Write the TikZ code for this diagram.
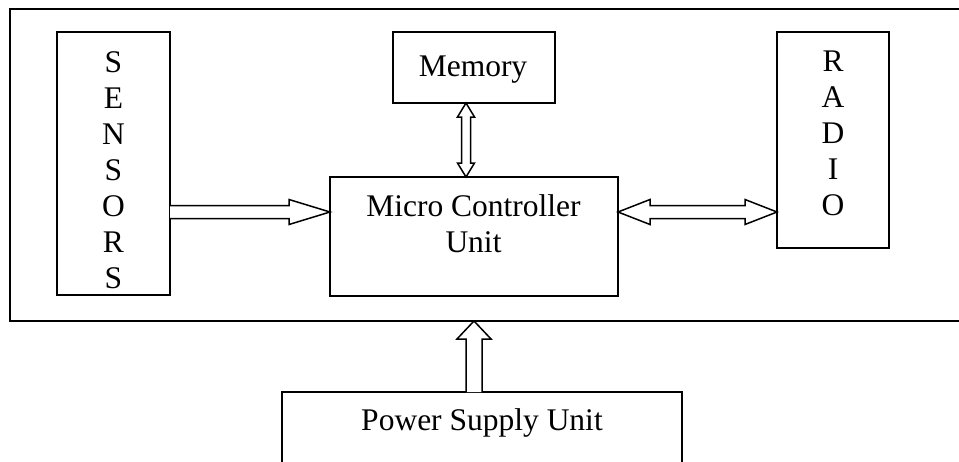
\documentclass[tikz,border=0pt]{standalone}
\usepackage{fontspec}
\setmainfont{Liberation Serif}
\usetikzlibrary{calc,fit}
\begin{document}
\begin{tikzpicture}[x=1pt,y=-1pt,
  box/.style={draw, line width=1.4pt, inner sep=0pt, outer sep=0pt},
  txt/.style={font=\fontsize{31.5}{36}\selectfont, align=center, inner sep=0pt, anchor=north},
  blockarrow/.style={draw, line width=1.5pt, fill=white, line join=miter}]
\useasboundingbox (0,0) rectangle (959,461);
\clip (0,0) rectangle (959,461);
% boxes
\node[box, fit={(10,9) (985,321)}] (outer) {};
\node[box, fit={(57,32) (170,295)}] (sen) {};
\node[box, fit={(393,32) (555,103)}] (mem) {};
\node[box, fit={(330,177) (618,296)}] (mcu) {};
\node[box, fit={(777,32) (889,248)}] (rad) {};
\node[box, fit={(282,392) (682,480)}] (psu) {};
% texts
\node[txt] (sentxt) at (sen.north |- 0,51) {S\\E\\N\\S\\O\\R\\S};
\node[txt] (memtxt) at (473,56) {Memory};
\node[txt] (mcutxt) at (473.5,194) {Micro Controller\\Unit};
\node[txt] (radtxt) at (rad.north |- 0,51) {R\\A\\D\\I\\O};
\node[txt] (psutxt) at (482,408) {Power Supply Unit};
% sensors -> mcu
\coordinate (a1) at (sen.east |- 0,212);
\coordinate (a2) at (mcu.west |- 0,212);
\draw[blockarrow] ($(a1)+(0,-6.5)$) -- ($(a2)+(-41,-6.5)$) -- ($(a2)+(-41,-12.5)$) -- (a2)
  -- ($(a2)+(-41,12.5)$) -- ($(a2)+(-41,6.5)$) -- ($(a1)+(0,6.5)$);
% mcu <-> radio
\coordinate (b1) at (mcu.east |- 0,212);
\coordinate (b2) at (rad.west |- 0,212);
\draw[blockarrow] (b1) -- ($(b1)+(32,-12.5)$) -- ($(b1)+(32,-6.5)$) -- ($(b2)+(-32,-6.5)$)
  -- ($(b2)+(-32,-12.5)$) -- (b2) -- ($(b2)+(-32,12.5)$) -- ($(b2)+(-32,6.5)$)
  -- ($(b1)+(32,6.5)$) -- ($(b1)+(32,12.5)$) -- cycle;
% memory <-> mcu
\coordinate (c1) at (466,0 |- mem.south);
\coordinate (c2) at (466,0 |- mcu.north);
\draw[blockarrow] (c1) -- ($(c1)+(8.5,14)$) -- ($(c1)+(4.5,14)$) -- ($(c2)+(4.5,-14)$)
  -- ($(c2)+(8.5,-14)$) -- (c2) -- ($(c2)+(-8.5,-14)$) -- ($(c2)+(-4.5,-14)$)
  -- ($(c1)+(-4.5,14)$) -- ($(c1)+(-8.5,14)$) -- cycle;
% power -> outer
\coordinate (d1) at (474,0 |- psu.north);
\coordinate (d2) at (474,0 |- outer.south);
\draw[blockarrow] ($(d1)+(-8,0)$) -- ($(d2)+(-8,18)$) -- ($(d2)+(-17,18)$) -- (d2)
  -- ($(d2)+(17,18)$) -- ($(d2)+(8,18)$) -- ($(d1)+(8,0)$);
\end{tikzpicture}
\end{document}
